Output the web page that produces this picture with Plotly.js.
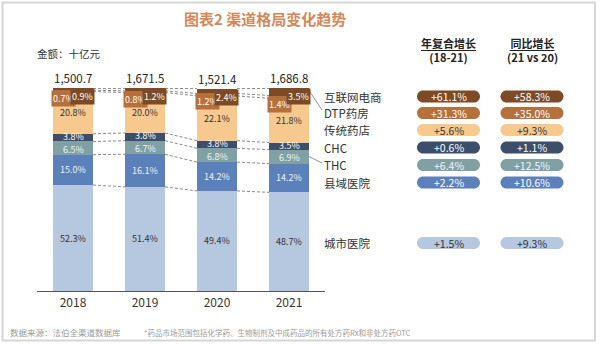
<!DOCTYPE html>
<html>
<head>
<meta charset="utf-8">
<script src="https://cdn.plot.ly/plotly-3.0.1.min.js"></script>
<style>
html,body{margin:0;padding:0;background:#fff;}
#chart{width:600px;height:344px;}
</style>
</head>
<body>
<div id="chart"></div>
<script>
// ---- data ----
const years = ['2018', '2019', '2020', '2021'];
const totals = [1500.7, 1671.5, 1521.4, 1686.8];
const cityHosp = [52.3, 51.4, 49.4, 48.7];
const countyHosp = [15.0, 16.1, 14.2, 14.2];
const thc = [6.5, 6.7, 6.8, 6.9];
const chc = [3.8, 3.8, 3.8, 3.5];
const pharmacy = [20.8, 20.0, 22.1, 21.8];
const dtp = [0.7, 0.8, 1.2, 1.4];
const ecommerce = [0.9, 1.2, 2.4, 3.5];
const channelNames = ['互联网电商', 'DTP药房', '传统药店', 'CHC', 'THC', '县域医院', '城市医院'];
const cagr = ['+61.1%', '+31.3%', '+5.6%', '+0.6%', '+6.4%', '+2.2%', '+1.5%'];
const yoy = ['+58.3%', '+35.0%', '+9.3%', '+1.1%', '+12.5%', '+10.6%', '+9.3%'];

// ---- styles / layout constants ----
const FONT = '"Noto Sans CJK SC", "Noto Sans", sans-serif';
const C = {
  city: '#b6c7e0', county: '#5c80ba', thc: '#80a0a4', chc: '#3c4e6a',
  pharm: '#f7c98f', dtp: '#b5703b', ecom: '#7c4b26'
};
const W = 600, H = 344;
const PL = 37, PR = 325, PT = 88, PB = 291;
const px2x = p => (p - PL) / (PR - PL);
const py2y = p => (PB - p) / (PB - PT);
const BW = 0.555, HW = BW / 2;
const YMAX = 100.2;
const xs = years.map((_, i) => i);

// stacked series from bottom to top
const stack = [
  {name: '城市医院', v: cityHosp, c: C.city, tc: '#333', ys: 0},
  {name: '县域医院', v: countyHosp, c: C.county, tc: '#eef2f8', ys: 0},
  {name: 'THC', v: thc, c: C.thc, tc: '#eef3f3', ys: -1},
  {name: 'CHC', v: chc, c: C.chc, tc: '#ffffff', ys: 1},
  {name: '传统药店', v: pharmacy, c: C.pharm, tc: '#333', ys: 0},
  {name: 'DTP药房', v: dtp, c: C.dtp, tc: '#fff', ys: 0},
  {name: '互联网电商', v: ecommerce, c: C.ecom, tc: '#fff', ys: 0}
];

const traces = [];
stack.forEach(s => {
  traces.push({
    type: 'bar', x: xs, y: s.v, width: BW, name: s.name,
    marker: {color: s.c, line: {width: 0}}, hoverinfo: 'skip'
  });
});

// cumulative boundaries
const cum = [];
let run = xs.map(() => 0);
stack.forEach(s => {
  run = run.map((r, i) => r + s.v[i]);
  cum.push(run.slice());
});

// dashed connectors
cum.forEach(b => {
  for (let i = 0; i < xs.length - 1; i++) {
    traces.push({
      type: 'scatter', mode: 'lines', x: [i + HW, i + 1 - HW], y: [b[i], b[i + 1]],
      line: {color: '#8a8a8a', width: 1, dash: '3px,2px'}, hoverinfo: 'skip', showlegend: false
    });
  }
});

const annotations = [];
const shapes = [];
const ann = o => annotations.push(Object.assign({showarrow: false, xanchor: 'center', yanchor: 'middle'}, o));

// segment labels (five main segments)
for (let k = 0; k < 5; k++) {
  const s = stack[k];
  xs.forEach(i => {
    const base = k === 0 ? 0 : cum[k - 1][i];
    ann({
      x: i, y: base + s.v[i] / 2, xref: 'x', yref: 'y', yshift: s.ys, borderpad: 0,
      text: s.v[i].toFixed(1) + '%', font: {family: FONT, size: 9, color: s.tc}
    });
  });
}
// small top segment labels
xs.forEach(i => {
  ann({
    x: i - BW / 4, y: Math.min(cum[5][i], 100), xref: 'x', yref: 'y', yanchor: 'top',
    text: dtp[i].toFixed(1) + '%', font: {family: FONT, size: 9, color: '#fff'},
    bgcolor: C.dtp, borderpad: 1
  });
  ann({
    x: i + BW / 4, y: Math.min(cum[6][i], 100), xref: 'x', yref: 'y', yanchor: 'top',
    text: ecommerce[i].toFixed(1) + '%', font: {family: FONT, size: 9, color: '#fff'},
    bgcolor: C.ecom, borderpad: 1
  });
  // totals
  ann({
    x: i, y: Math.min(cum[6][i], 100), xref: 'x', yref: 'y', yanchor: 'bottom',
    text: totals[i].toLocaleString('en-US', {minimumFractionDigits: 1, maximumFractionDigits: 1}),
    font: {family: FONT, size: 11.5, color: '#222'}
  });
});

// right side: channel labels and pills
const rowY = [96.5, 113, 130, 147.5, 165, 182.5, 243];
const pillFill = [C.ecom, C.dtp, C.pharm, C.chc, C.thc, C.county, C.city];
const pillText = ['#fff', '#fff', '#333', '#fff', '#f2f5f5', '#fff', '#333'];
const pw = 31.5, ph = 6, pk = 3.3, pr = 6;
const pillPath =
  `M ${-pw + pr},${-ph} L ${pw - pr},${-ph} C ${pw - pr + pk},${-ph} ${pw},${-pk} ${pw},0 ` +
  `C ${pw},${pk} ${pw - pr + pk},${ph} ${pw - pr},${ph} L ${-pw + pr},${ph} ` +
  `C ${-pw + pr - pk},${ph} ${-pw},${pk} ${-pw},0 C ${-pw},${-pk} ${-pw + pr - pk},${-ph} ${-pw + pr},${-ph} Z`;
const colX = [448.5, 532];
channelNames.forEach((n, r) => {
  ann({
    x: px2x(322), y: py2y(rowY[r]), xref: 'paper', yref: 'paper', xanchor: 'left',
    text: n, font: {family: FONT, size: 11.5, color: '#333'}
  });
  [cagr, yoy].forEach((arr, c) => {
    shapes.push({
      type: 'path', xref: 'paper', yref: 'paper', xsizemode: 'pixel', ysizemode: 'pixel',
      xanchor: px2x(colX[c]), yanchor: py2y(rowY[r]), path: pillPath,
      fillcolor: pillFill[r], line: {width: 0}, layer: 'below'
    });
    ann({
      x: px2x(colX[c]), y: py2y(rowY[r]), xref: 'paper', yref: 'paper',
      text: arr[r], font: {family: FONT, size: 10.5, color: pillText[r]}
    });
  });
});

// leader lines from 2021 bar
const last = xs.length - 1;
const toPaperY = v => v / YMAX;
shapes.push({
  type: 'line', xref: 'paper', yref: 'paper',
  x0: (last + HW + 0.5) / 4, y0: toPaperY(cum[6][last]) - 0.01,
  x1: px2x(322), y1: py2y(rowY[1] - 3), line: {color: '#777', width: 0.8}
});
shapes.push({
  type: 'line', xref: 'paper', yref: 'paper',
  x0: (last + HW + 0.5) / 4, y0: toPaperY(cum[2][last] - thc[last] / 2),
  x1: px2x(322), y1: py2y(rowY[4] - 2), line: {color: '#777', width: 0.8}
});

// headers (two lines in one text block, first line underlined)
const headers = [['年复合增长', '(18-21)', 55], ['同比增长', '(21 vs 20)', 45]];
headers.forEach((h, c) => {
  ann({
    x: px2x(colX[c]), y: py2y(50), xref: 'paper', yref: 'paper',
    text: '<b>' + h[0] + '</b><br><b>' + h[1] + '</b>',
    font: {family: FONT, size: 11, color: '#222'}
  });
  shapes.push({
    type: 'line', xref: 'paper', yref: 'paper',
    x0: px2x(colX[c] - h[2] / 2), x1: px2x(colX[c] + h[2] / 2),
    y0: py2y(50.5), y1: py2y(50.5), line: {color: '#222', width: 1}
  });
});

// title, unit, footer
ann({
  x: px2x(265), y: py2y(18), xref: 'paper', yref: 'paper',
  text: '<b>图表2 渠道格局变化趋势</b>', font: {family: FONT, size: 15, color: '#d4875a'}
});
ann({
  x: px2x(35), y: py2y(53), xref: 'paper', yref: 'paper', xanchor: 'left',
  text: '金额：十亿元', font: {family: FONT, size: 10.5, color: '#333'}
});
ann({
  x: px2x(8), y: py2y(332), xref: 'paper', yref: 'paper', xanchor: 'left',
  text: '数据来源：法伯全渠道数据库', font: {family: FONT, size: 8.5, color: '#9a9a9a'}
});
ann({
  x: px2x(142), y: py2y(332), xref: 'paper', yref: 'paper', xanchor: 'left',
  text: '*药品市场范围包括化学药、生物制剂及中成药品的所有处方药Rx和非处方药OTC',
  font: {family: FONT, size: 7.5, color: '#9a9a9a'}
});

// outer frame
shapes.push({
  type: 'rect', xref: 'paper', yref: 'paper', layer: 'below',
  x0: px2x(2.5), x1: px2x(595), y0: py2y(2.5), y1: py2y(340.5),
  line: {color: '#d6d6d6', width: 2}, fillcolor: 'rgba(0,0,0,0)'
});

const layout = {
  width: W, height: H,
  margin: {l: PL, r: W - PR, t: PT, b: H - PB, pad: 0},
  paper_bgcolor: '#ffffff', plot_bgcolor: 'rgba(0,0,0,0)',
  barmode: 'stack', showlegend: false,
  font: {family: FONT},
  xaxis: {
    range: [-0.5, 3.5], tickvals: xs, ticktext: years, showgrid: false, zeroline: false,
    showline: true, linecolor: '#555', linewidth: 1.2, ticks: '',
    tickfont: {family: FONT, size: 12, color: '#333'}, fixedrange: true
  },
  yaxis: {range: [0, YMAX], visible: false, fixedrange: true},
  annotations: annotations,
  shapes: shapes
};

Plotly.newPlot('chart', traces, layout, {displayModeBar: false, staticPlot: true});
</script>
</body>
</html>
